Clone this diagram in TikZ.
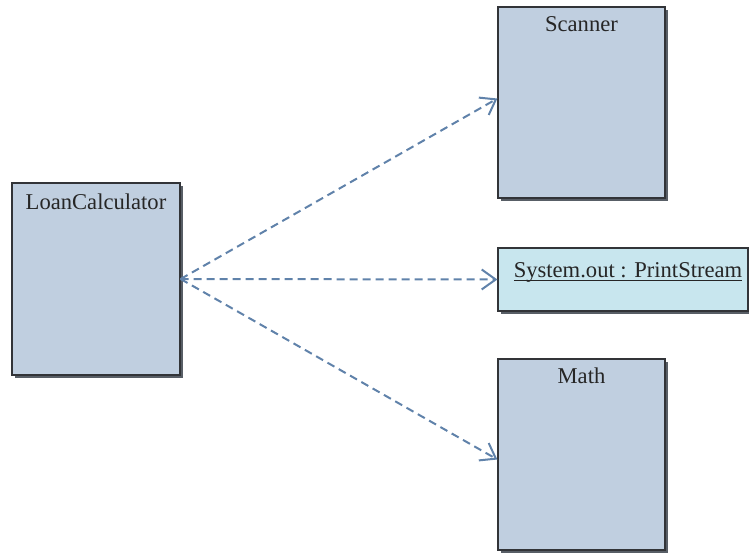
\documentclass[tikz,border=0pt]{standalone}
\usepackage{fontspec}
\setmainfont{Liberation Serif}
\newfontfamily\umlfont{Liberation Serif}
\usetikzlibrary{arrows.meta,positioning,shadows}
\definecolor{umlfill}  {RGB}{192,207,224}
\definecolor{umlobj}   {RGB}{200,230,238}
\definecolor{umlline}  {RGB}{ 50, 52, 56}
\definecolor{umlshadow}{RGB}{ 88, 94,102}
\definecolor{umldep}   {RGB}{ 96,130,170}
\tikzset{
  cls/.style={draw=umlline,fill=umlfill,line width=0.6pt,inner sep=0pt,
    minimum width=84pt,minimum height=96pt,
    drop shadow={shadow xshift=1.5pt,shadow yshift=-1.5pt,fill=umlshadow,opacity=1}},
  obj/.style={cls,fill=umlobj,minimum width=125pt,minimum height=31.5pt,
    font=\umlfont\fontsize{11.3}{13}\selectfont,text=black!85},
  ttl/.style={font=\umlfont\fontsize{11.3}{13}\selectfont,text=black!85,
    anchor=base,inner sep=0pt},
  dep/.style={-{Straight Barb[length=7pt,width=10pt]},line width=1pt,
    color=umldep,dash pattern=on 4pt off 2.5pt},
}

\begin{document}
\begin{tikzpicture}[x=0.5pt,y=-0.5pt]
  \useasboundingbox (0,0) rectangle (749,552);
  % classes
  \node[cls] at (96,279)(lc){};
  \node[ttl] at ([yshift=-13.5pt]lc.north)(lct){LoanCalculator};
  \node[cls,minimum width=83.5pt,minimum height=95.5pt] at (581.5,102.5)(sc){};
  \node[ttl] at ([yshift=-12.5pt]sc.north)(sct){Scanner};
  \node[cls,minimum width=83.5pt,minimum height=95.5pt] at (581.5,454.5)(ma){};
  \node[ttl] at ([yshift=-12.5pt]ma.north)(mat){Math};
  % object
  \node[obj] at (623,279.5)(ps){\hspace{5pt}\underline{\smash{System.out : PrintStream}}};

  % dependencies
  \draw[dep](lc.east)--([yshift=2pt]sc.west);
  \draw[dep](lc.east)--(ps.west);
  \draw[dep](lc.east)--([yshift=-2.5pt]ma.west);
\end{tikzpicture}
\end{document}
